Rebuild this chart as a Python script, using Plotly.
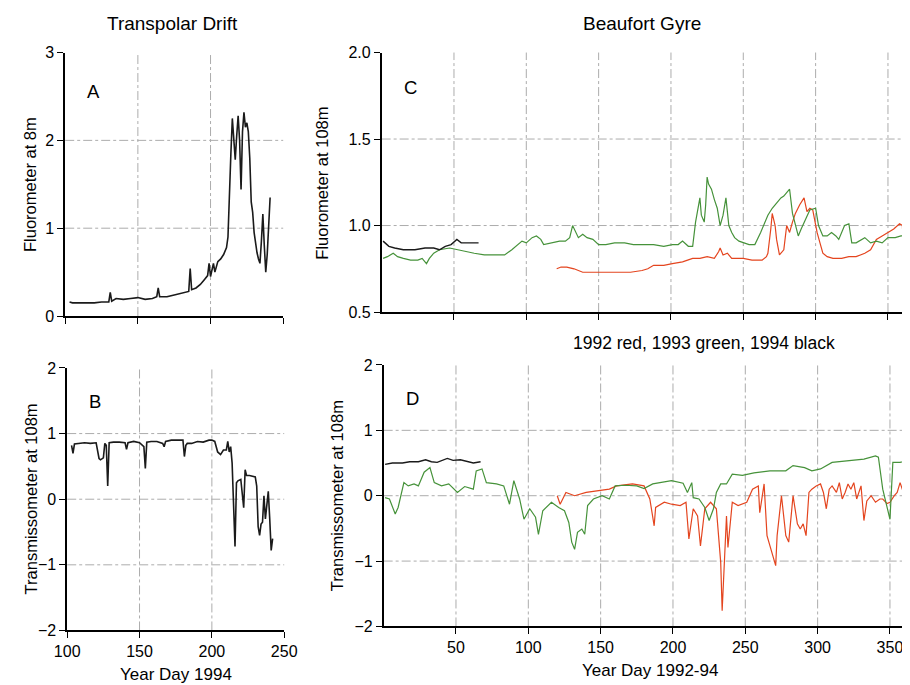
import plotly.graph_objects as go

# ---------------- Panel A: Transpolar Drift, fluorometer at 8 m (1994)
days_a = [103,105,110,115,120,125,130,131,132,135,140,145,150,155,160,163,164,165,170,175,180,185,186,187,
          190,193,196,198,199,200,202,203,205,207,209,211,212,213,214,215,216,217,218,219,220,221,222,223,
          224,225,226,227,228,229,230,231,232,233,234,235,236,237,238,239,240,241]
fluor_a = [0.16,0.15,0.15,0.15,0.15,0.16,0.16,0.27,0.17,0.20,0.19,0.20,0.21,0.19,0.20,0.22,0.32,0.22,0.22,0.24,
           0.26,0.28,0.54,0.30,0.32,0.36,0.42,0.46,0.60,0.45,0.60,0.50,0.62,0.65,0.70,0.78,0.90,1.50,1.85,2.25,
           1.95,1.78,2.05,2.28,2.00,1.44,2.10,2.32,2.15,2.20,2.10,1.80,1.30,1.18,0.95,0.80,0.72,0.65,0.60,0.85,
           1.16,0.80,0.50,0.70,1.00,1.35]

# ---------------- Panel B: Transpolar Drift, transmissometer at 108 m (1994)
days_b = [103,104,105,108,112,116,120,122,123,125,126,127,128,129,132,136,140,141,142,146,150,153,154,155,158,
          162,166,167,168,172,176,180,181,182,183,186,190,194,198,200,202,204,206,208,210,211,212,213,214,215,
          216,217,218,220,221,222,223,224,226,228,230,231,232,233,234,235,236,237,238,239,240,241,242]
trans_b = [0.82,0.70,0.84,0.85,0.86,0.85,0.86,0.62,0.60,0.63,0.85,0.82,0.20,0.86,0.87,0.87,0.86,0.76,0.86,0.88,
           0.86,0.80,0.47,0.87,0.88,0.88,0.85,0.80,0.88,0.90,0.90,0.90,0.65,0.82,0.85,0.85,0.88,0.87,0.90,0.90,
           0.88,0.72,0.68,0.75,0.75,0.88,0.72,0.80,0.55,-0.15,-0.72,0.25,0.28,0.30,0.10,-0.13,0.45,0.36,0.36,0.35,
           0.34,0.20,-0.42,-0.55,-0.38,-0.35,0.05,-0.30,-0.10,0.12,-0.30,-0.78,-0.60]

# ---------------- Panel C: Beaufort Gyre, fluorometer at 108 m
days_c94 = [1,5,9,15,23,30,36,40,44,48,52,55,58,62,67]
fluor_c94 = [0.91,0.88,0.87,0.86,0.86,0.87,0.87,0.86,0.88,0.89,0.92,0.90,0.90,0.90,0.90]

days_c93 = [1,4,8,11,15,20,25,28,31,33,36,40,47,52,58,64,71,78,85,90,97,100,104,107,110,112,118,123,127,130,
            132,134,136,139,142,146,150,155,161,168,174,180,188,195,201,205,208,212,215,217,219,220,221,223,
            224,225,226,228,230,232,234,236,238,240,242,244,247,250,254,258,262,267,270,273,276,278,280,282,
            284,286,288,290,293,296,300,302,305,308,311,314,316,318,320,323,325,328,334,338,342,346,350,355,
            359,363,366]
fluor_c93 = [0.81,0.82,0.84,0.82,0.81,0.80,0.80,0.81,0.78,0.81,0.84,0.86,0.87,0.86,0.85,0.84,0.83,0.83,0.83,
             0.86,0.91,0.90,0.93,0.94,0.92,0.89,0.90,0.91,0.91,0.93,1.00,0.96,0.93,0.95,0.93,0.92,0.89,0.89,
             0.90,0.90,0.89,0.89,0.89,0.88,0.89,0.89,0.91,0.88,0.88,1.02,1.10,1.16,1.06,1.02,1.12,1.28,1.24,
             1.21,1.15,1.10,1.00,1.06,1.16,1.00,0.96,0.93,0.91,0.90,0.89,0.89,0.96,1.06,1.10,1.13,1.16,1.17,
             1.19,1.21,1.07,1.00,0.94,0.98,1.04,1.09,1.10,1.00,0.94,0.94,0.96,0.94,0.92,0.96,1.00,1.01,0.90,
             0.90,0.93,0.90,0.91,0.90,0.93,0.93,0.94,0.94,0.95]

days_c92 = [121,124,128,133,139,145,150,158,166,172,180,184,188,195,201,208,215,220,225,230,233,234,236,239,
            242,246,250,256,263,266,267,269,270,272,273,275,278,280,282,284,286,289,292,294,296,298,301,303,
            305,308,312,318,323,328,334,338,342,346,350,354,358,360,361,364,367]
fluor_c92 = [0.75,0.76,0.76,0.75,0.73,0.73,0.73,0.73,0.73,0.73,0.74,0.75,0.77,0.77,0.78,0.79,0.81,0.81,0.82,
             0.81,0.85,0.87,0.83,0.84,0.81,0.81,0.81,0.80,0.80,0.82,0.84,0.98,1.07,1.00,0.92,0.83,0.86,1.00,
             0.96,1.02,1.07,1.12,1.16,1.08,1.10,1.09,0.96,0.90,0.84,0.82,0.81,0.81,0.82,0.82,0.84,0.86,0.92,
             0.94,0.96,0.98,1.01,1.00,0.79,0.80,0.79]

# ---------------- Panel D: Beaufort Gyre, transmissometer at 108 m
days_d94 = [1,6,13,18,24,29,33,37,44,48,53,58,62,67]
trans_d94 = [0.48,0.50,0.50,0.52,0.52,0.55,0.52,0.51,0.57,0.54,0.55,0.52,0.50,0.52]

days_d93 = [1,4,8,10,14,17,21,24,28,32,35,40,45,51,56,62,64,68,71,78,83,87,90,94,97,101,105,107,110,116,121,
            125,128,130,132,134,137,139,141,145,151,156,160,167,175,180,186,191,199,207,210,213,214,218,222,
            225,228,230,233,237,241,248,256,267,278,283,291,296,302,310,321,332,340,342,345,348,350,352,357,
            363,366]
trans_d93 = [-0.03,-0.05,-0.28,-0.18,0.20,0.15,0.18,0.15,0.36,0.43,0.20,0.15,0.18,0.05,0.14,0.10,0.38,0.41,
             0.20,0.18,0.15,-0.13,0.23,-0.05,-0.36,-0.20,-0.33,-0.59,-0.23,-0.10,-0.18,-0.23,-0.41,-0.71,
             -0.82,-0.56,-0.51,-0.59,-0.15,-0.05,0.00,-0.05,0.15,0.16,0.15,0.11,0.18,0.20,0.23,0.19,0.05,0.20,
             -0.03,-0.05,-0.18,-0.38,-0.20,0.05,0.18,0.18,0.33,0.31,0.35,0.38,0.38,0.46,0.43,0.38,0.41,0.51,
             0.54,0.56,0.61,0.59,0.10,-0.15,-0.36,0.51,0.51,0.54,0.51]

days_d92 = [120,122,126,132,140,148,156,161,172,180,184,187,188,194,199,205,209,211,214,217,219,222,226,230,
            233,234,236,237,238,241,245,251,255,259,260,263,265,269,271,272,275,278,280,283,286,288,290,292,
            294,296,299,302,304,306,308,310,313,315,317,319,321,323,325,327,330,332,334,337,340,343,345,348,
            350,353,355,357,360,363,366]
trans_d92 = [0.00,-0.13,0.05,0.00,0.05,0.08,0.10,0.15,0.18,0.15,-0.05,-0.46,-0.18,-0.10,-0.13,-0.15,-0.10,
             -0.66,-0.20,-0.31,-0.77,-0.20,-0.10,-0.20,-1.02,-1.76,-0.82,-0.31,-0.79,-0.10,-0.15,-0.10,0.10,
             0.15,-0.26,0.18,-0.61,-0.94,-1.07,-0.61,0.00,-0.61,-0.71,0.00,-0.43,-0.51,-0.43,-0.61,0.05,0.10,
             0.15,0.18,0.05,-0.20,0.10,0.15,0.05,0.20,-0.05,0.05,0.18,0.10,0.20,-0.05,0.15,-0.38,-0.08,0.00,
             -0.10,-0.05,-0.05,-0.12,-0.10,0.00,0.05,0.20,0.00,0.31,0.10]

RED = "#e4451f"
GREEN = "#46923a"
BLACK = "#1a1a1a"
FONT = "Liberation Sans, Arial, Helvetica, sans-serif"

W, H = 910, 685
# mapping from target picture pixels to figure pixels (measured from previous renders)
SX, OX = 0.967, 21.0
SY, OY = 0.977, 16.4


def px(R):
    return min(1.0, max(0.0, (R - OX) / SX / W))


def py(R):
    return min(1.0, max(0.0, 1 - (R - OY) / SY / H))


# right-hand panels: x = 0 at picture pixel 380, 1.44 px per day; the domain reaches the figure edge
XR_END = ((OX + SX * W) - 380) / 1.44

fig = go.Figure()
fig.add_trace(go.Scatter(x=days_a, y=fluor_a, mode="lines", line=dict(color=BLACK, width=1.6),
                         xaxis="x", yaxis="y", showlegend=False))
fig.add_trace(go.Scatter(x=days_b, y=trans_b, mode="lines", line=dict(color=BLACK, width=1.6),
                         xaxis="x2", yaxis="y2", showlegend=False))
fig.add_trace(go.Scatter(x=days_c92, y=fluor_c92, mode="lines", line=dict(color=RED, width=1.2),
                         xaxis="x3", yaxis="y3", showlegend=False))
fig.add_trace(go.Scatter(x=days_c93, y=fluor_c93, mode="lines", line=dict(color=GREEN, width=1.2),
                         xaxis="x3", yaxis="y3", showlegend=False))
fig.add_trace(go.Scatter(x=days_c94, y=fluor_c94, mode="lines", line=dict(color=BLACK, width=1.4),
                         xaxis="x3", yaxis="y3", showlegend=False))
fig.add_trace(go.Scatter(x=days_d92, y=trans_d92, mode="lines", line=dict(color=RED, width=1.2),
                         xaxis="x4", yaxis="y4", showlegend=False))
fig.add_trace(go.Scatter(x=days_d93, y=trans_d93, mode="lines", line=dict(color=GREEN, width=1.2),
                         xaxis="x4", yaxis="y4", showlegend=False))
fig.add_trace(go.Scatter(x=days_d94, y=trans_d94, mode="lines", line=dict(color=BLACK, width=1.4),
                         xaxis="x4", yaxis="y4", showlegend=False))

axcommon = dict(showline=True, linecolor="black", linewidth=1.6, ticks="outside", ticklen=6,
                tickwidth=1.2, tickcolor="black", showgrid=False, zeroline=False,
                tickfont=dict(family=FONT, size=16, color="black"))

fig.update_layout(
    width=W, height=H, paper_bgcolor="white", plot_bgcolor="white",
    margin=dict(l=0, r=0, t=0, b=0),
    xaxis=dict(axcommon, domain=[px(65), px(282)], range=[100, 250], tickvals=[100, 150, 200, 250],
               showticklabels=False, anchor="y"),
    yaxis=dict(axcommon, domain=[py(317), py(53)], range=[0, 3], tickvals=[0, 1, 2, 3], anchor="x"),
    xaxis2=dict(axcommon, domain=[px(67), px(283)], range=[100, 250], tickvals=[100, 150, 200, 250],
                anchor="y2"),
    yaxis2=dict(axcommon, domain=[py(632), py(369)], range=[-2, 2], tickvals=[-2, -1, 0, 1, 2], anchor="x2"),
    xaxis3=dict(axcommon, domain=[px(380), 1.0], range=[0, XR_END],
                tickvals=[50, 100, 150, 200, 250, 300, 350], showticklabels=False, anchor="y3"),
    yaxis3=dict(axcommon, domain=[py(313), py(53)], range=[0.5, 2.0], tickvals=[0.5, 1.0, 1.5, 2.0],
                tickformat=".1f", anchor="x3"),
    xaxis4=dict(axcommon, domain=[px(382), 1.0], range=[0, XR_END - 2 / 1.44],
                tickvals=[50, 100, 150, 200, 250, 300, 350], anchor="y4"),
    yaxis4=dict(axcommon, domain=[py(628), py(366)], range=[-2, 2], tickvals=[-2, -1, 0, 1, 2], anchor="x4"),
)

GRID = dict(color="#acacac", width=1, dash="dashdot")
shapes = []


def hgrid(xa, ya, vals):
    for v in vals:
        shapes.append(dict(type="line", xref=f"{xa} domain", yref=ya, x0=0, x1=1, y0=v, y1=v,
                           line=GRID, layer="below"))


def vgrid(xa, ya, vals):
    for v in vals:
        shapes.append(dict(type="line", xref=xa, yref=f"{ya} domain", x0=v, x1=v, y0=0, y1=1,
                           line=GRID, layer="below"))


hgrid("x", "y", [1, 2]); vgrid("x", "y", [150, 200])
hgrid("x2", "y2", [-1, 0, 1]); vgrid("x2", "y2", [150, 200])
hgrid("x3", "y3", [1.0, 1.5]); vgrid("x3", "y3", [50, 100, 150, 200, 250, 300, 350])
hgrid("x4", "y4", [-1, 0, 1]); vgrid("x4", "y4", [50, 100, 150, 200, 250, 300, 350])
fig.update_layout(shapes=shapes)

ann = []


def text(t, x, y, size, angle=0, minx=None, miny=None):
    xx = px(x)
    yy = py(y)
    if minx is not None:
        xx = max(xx, minx / W)
    if miny is not None:
        yy = min(yy, 1 - miny / H)
    ann.append(dict(text=t, x=xx, y=yy, xref="paper", yref="paper", showarrow=False,
                    textangle=angle, font=dict(family=FONT, size=size, color="black"),
                    xanchor="center", yanchor="middle"))


text("Transpolar Drift", 172, 23, 19, miny=8)
text("Beaufort Gyre", 639, 21, 19, miny=8)
text("1992 red, 1993 green, 1994 black", 701, 344, 17.5)
text("Year Day 1994", 175, 676, 17)
text("Year Day 1992-94", 647, 672, 17)
text("Fluorometer at 8m", 20, 185, 16.5, -90, minx=10)
text("Transmissometer at 108m", 19, 500, 16.5, -90, minx=10)
text("Fluorometer at 108m", 321, 184, 16.5, -90)
text("Transmissometer at 108m", 335, 497, 16.5, -90)
text("A", 93, 92, 18.5)
text("B", 95, 403, 18.5)
text("C", 409, 88, 18.5)
text("D", 411, 400, 18.5)
fig.update_layout(annotations=ann)

fig.write_html("out.html")
